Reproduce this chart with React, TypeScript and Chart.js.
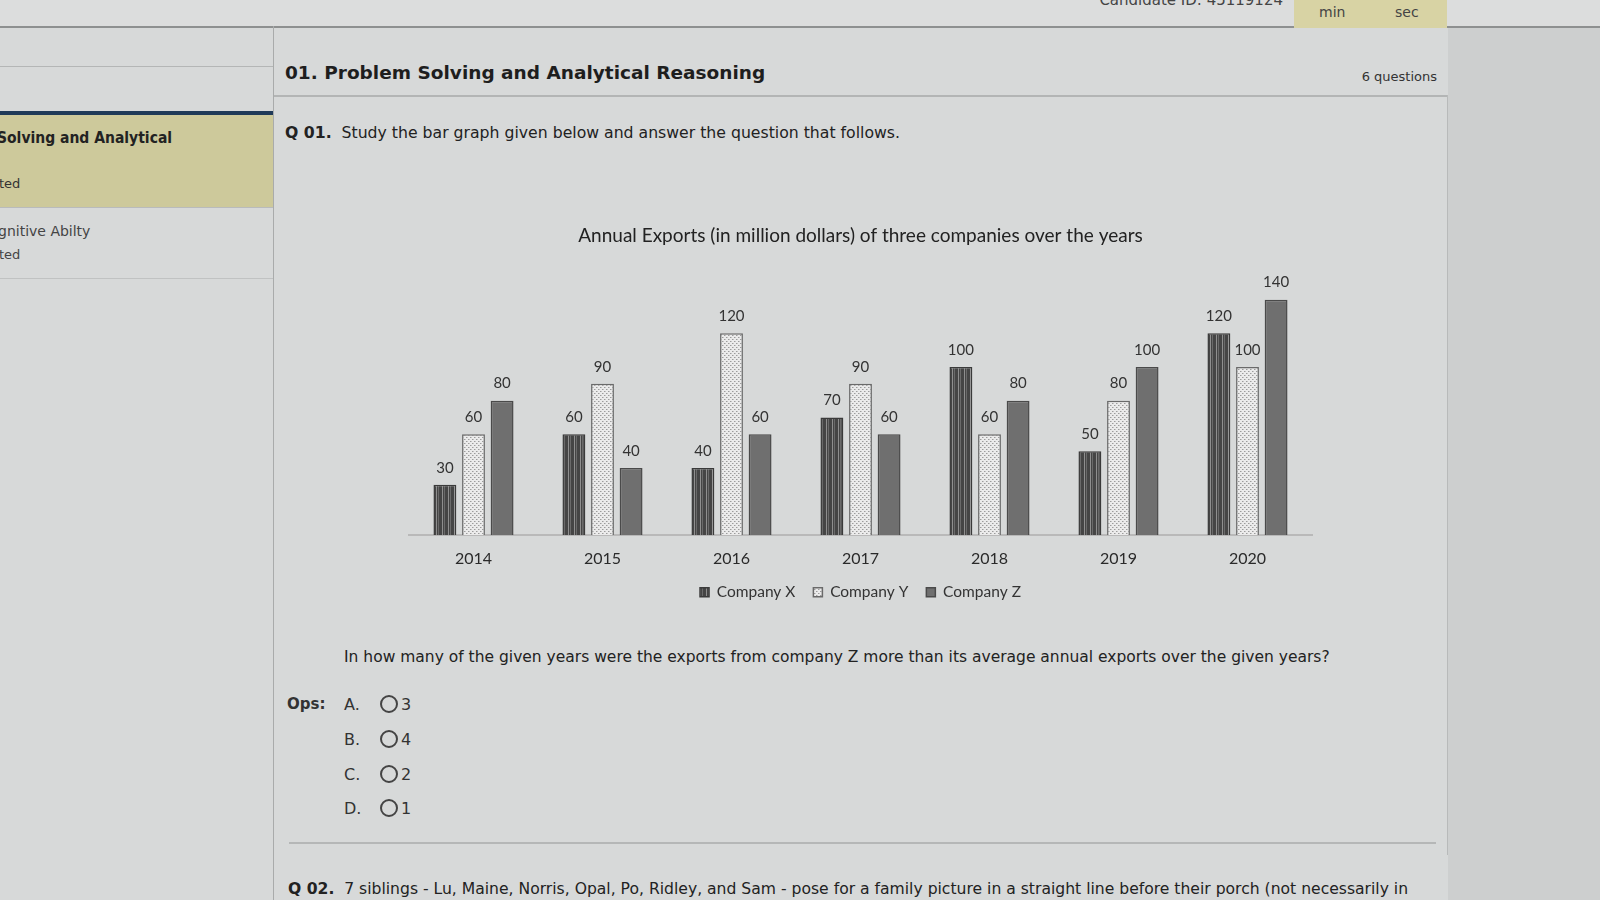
import React, { useEffect, useRef } from "react";
import { Chart, registerables } from "chart.js";

Chart.register(...registerables);

const years = ["2014", "2015", "2016", "2017", "2018", "2019", "2020"];
const companyX = [30, 60, 40, 70, 100, 50, 120];
const companyY = [60, 90, 120, 90, 60, 80, 100];
const companyZ = [80, 40, 60, 60, 80, 100, 140];
const seriesNames = ["Company X", "Company Y", "Company Z"];
const chartTitle = "Annual Exports (in million dollars) of three companies over the years";

const options = ["3", "4", "2", "1"];
const optionLetters = ["A.", "B.", "C.", "D."];

function makePattern(kind: string): CanvasPattern | string {
  const c = document.createElement("canvas");
  const ctx = c.getContext("2d");
  if (!ctx) return "#777";
  if (kind === "x") {
    c.width = 6;
    c.height = 6;
    ctx.fillStyle = "#454545";
    ctx.fillRect(0, 0, 6, 6);
    ctx.fillStyle = "#8f8f8f";
    ctx.fillRect(2, 0, 1, 6);
    ctx.fillStyle = "#6a6a6a";
    ctx.fillRect(4, 0, 1, 6);
  } else {
    c.width = 4;
    c.height = 4;
    ctx.fillStyle = "#ebebeb";
    ctx.fillRect(0, 0, 4, 4);
    ctx.fillStyle = "#9c9c9c";
    ctx.fillRect(0, 0, 1, 1);
    ctx.fillRect(2, 2, 1, 1);
    ctx.fillStyle = "#c4c4c4";
    ctx.fillRect(1, 0, 1, 1);
    ctx.fillRect(3, 2, 1, 1);
  }
  return ctx.createPattern(c, "repeat") || "#777";
}

const valueLabels = {
  id: "valueLabels",
  afterDatasetsDraw(chart: any) {
    const ctx = chart.ctx;
    ctx.save();
    ctx.font = "15px Lato";
    ctx.fillStyle = "#333";
    ctx.textAlign = "center";
    ctx.textBaseline = "middle";
    chart.data.datasets.forEach((ds: any, i: number) => {
      const meta = chart.getDatasetMeta(i);
      meta.data.forEach((el: any, j: number) => {
        ctx.fillText(String(ds.data[j]), el.x, el.y - 17);
      });
    });
    ctx.restore();
  },
};

function BarChart() {
  const ref = useRef<HTMLCanvasElement>(null);
  useEffect(() => {
    if (!ref.current) return;
    const chart = new Chart(ref.current, {
      type: "bar",
      data: {
        labels: years,
        datasets: [
          {
            label: seriesNames[0],
            data: companyX,
            backgroundColor: makePattern("x") as any,
            borderColor: "#3a3a3a",
            borderWidth: 1.5,
          },
          {
            label: seriesNames[1],
            data: companyY,
            backgroundColor: makePattern("y") as any,
            borderColor: "#6a6a6a",
            borderWidth: 1.5,
          },
          {
            label: seriesNames[2],
            data: companyZ,
            backgroundColor: "#6f6f6f",
            borderColor: "#4a4a4a",
            borderWidth: 1.5,
          },
        ],
      },
      options: {
        responsive: false,
        animation: false,
        layout: { padding: { top: 9, left: 29, right: 28, bottom: 15 } },
        datasets: { bar: { categoryPercentage: 0.665, barPercentage: 0.8 } },
        scales: {
          x: {
            grid: { display: false, drawTicks: false },
            border: { display: true, color: "#b9b9b9", width: 2 },
            ticks: {
              padding: 14,
              color: "#2a2a2a",
              font: { family: "Lato", size: 16 },
            },
            afterFit(scale: any) {
              scale.height -= 16;
            },
          },
          y: { display: false, min: 0, max: 150 },
        },
        plugins: {
          title: {
            display: true,
            text: chartTitle,
            color: "#222",
            font: { family: "Lato", size: 19, weight: "normal" },
            padding: { top: 0, bottom: 36 },
          },
          legend: {
            position: "bottom",
            labels: {
              boxWidth: 9,
              boxHeight: 9,
              padding: 18,
              color: "#333",
              font: { family: "Lato", size: 15.5 },
            },
          },
          tooltip: { enabled: false },
        },
      },
      plugins: [valueLabels],
    });
    return () => chart.destroy();
  }, []);
  return (
    <canvas
      ref={ref}
      width={960}
      height={410}
      style={{ position: "absolute", left: 380, top: 215 }}
    />
  );
}

export default function App() {
  const ui = "'DejaVu Sans', Verdana, sans-serif";
  return (
    <div
      style={{
        position: "fixed",
        left: 0,
        top: 0,
        width: 1600,
        height: 900,
        overflow: "hidden",
        background: "#d7d9d9",
        fontFamily: ui,
        color: "#2a2a2a",
      }}
    >
      {/* right darker area */}
      <div style={{ position: "absolute", left: 1448, top: 28, width: 152, height: 872, background: "#cdcfcf" }} />
      {/* top bar */}
      <div style={{ position: "absolute", left: 0, top: 0, width: 1600, height: 26, background: "#dcdddd", borderBottom: "2px solid #8e9090" }} />
      <div style={{ position: "absolute", right: 317, top: -9, fontSize: 15, color: "#444", whiteSpace: "nowrap" }}>
        Candidate ID: 45119124
      </div>
      <div style={{ position: "absolute", left: 1294, top: 0, width: 153, height: 28, background: "#d8d3a4" }}>
        <span style={{ position: "absolute", left: 25, top: 4, fontSize: 14, color: "#444" }}>min</span>
        <span style={{ position: "absolute", left: 101, top: 4, fontSize: 14, color: "#444" }}>sec</span>
      </div>
      {/* sidebar */}
      <div style={{ position: "absolute", left: 0, top: 66, width: 273, height: 1, background: "#b4b6b6" }} />
      <div style={{ position: "absolute", left: 0, top: 111, width: 273, height: 4, background: "#1f3a58" }} />
      <div style={{ position: "absolute", left: 0, top: 115, width: 273, height: 92, background: "#cdc99b" }} />
      <div style={{ position: "absolute", left: -3, top: 129, fontSize: 15.5, fontWeight: "bold", fontFamily: "'DejaVu Sans Condensed', 'DejaVu Sans', sans-serif", color: "#222", whiteSpace: "nowrap" }}>
        Solving and Analytical
      </div>
      <div style={{ position: "absolute", left: -1, top: 176, fontSize: 13, color: "#333" }}>ted</div>
      <div style={{ position: "absolute", left: 0, top: 207, width: 273, height: 1, background: "#b9bbbb" }} />
      <div style={{ position: "absolute", left: -2, top: 223, fontSize: 14, color: "#444", whiteSpace: "nowrap" }}>gnitive Abilty</div>
      <div style={{ position: "absolute", left: -1, top: 247, fontSize: 13, color: "#444" }}>ted</div>
      <div style={{ position: "absolute", left: 0, top: 278, width: 273, height: 1, background: "#c0c2c2" }} />
      <div style={{ position: "absolute", left: 273, top: 26, width: 1, height: 874, background: "#a9abab" }} />
      {/* header */}
      <div style={{ position: "absolute", left: 285, top: 62, fontSize: 18.5, fontWeight: "bold", color: "#1e1e1e", whiteSpace: "nowrap" }}>
        01. Problem Solving and Analytical Reasoning
      </div>
      <div style={{ position: "absolute", right: 163, top: 69, fontSize: 13, color: "#333", whiteSpace: "nowrap" }}>6 questions</div>
      <div style={{ position: "absolute", left: 274, top: 95, width: 1174, height: 2, background: "#b3b5b5" }} />
      <div style={{ position: "absolute", left: 1447, top: 95, width: 1, height: 760, background: "#b8baba" }} />
      {/* question 1 */}
      <div style={{ position: "absolute", left: 285, top: 123, fontSize: 15.7, color: "#222", whiteSpace: "nowrap" }}>
        <b>Q 01.</b>&nbsp; Study the bar graph given below and answer the question that follows.
      </div>
      <BarChart />
      <div style={{ position: "absolute", left: 344, top: 648, fontSize: 15.5, color: "#222", whiteSpace: "nowrap" }}>
        In how many of the given years were the exports from company Z more than its average annual exports over the given years?
      </div>
      <div style={{ position: "absolute", left: 287, top: 695, fontSize: 15, fontWeight: "bold", color: "#333" }}>Ops:</div>
      {options.map((o, i) => (
        <div key={i} style={{ position: "absolute", left: 344, top: 695 + i * 34.8, fontSize: 16, color: "#333", whiteSpace: "nowrap" }}>
          <span style={{ display: "inline-block", width: 36 }}>{optionLetters[i]}</span>
          <span
            style={{
              display: "inline-block",
              width: 14,
              height: 14,
              border: "2px solid #444",
              borderRadius: "50%",
              verticalAlign: "-3px",
              marginRight: 3,
            }}
          />
          {o}
        </div>
      ))}
      <div style={{ position: "absolute", left: 289, top: 842, width: 1147, height: 2, background: "#b5b7b7" }} />
      <div style={{ position: "absolute", left: 288, top: 880, fontSize: 15.6, color: "#222", whiteSpace: "nowrap" }}>
        <b>Q 02.</b>&nbsp; 7 siblings - Lu, Maine, Norris, Opal, Po, Ridley, and Sam - pose for a family picture in a straight line before their porch (not necessarily in
      </div>
    </div>
  );
}
